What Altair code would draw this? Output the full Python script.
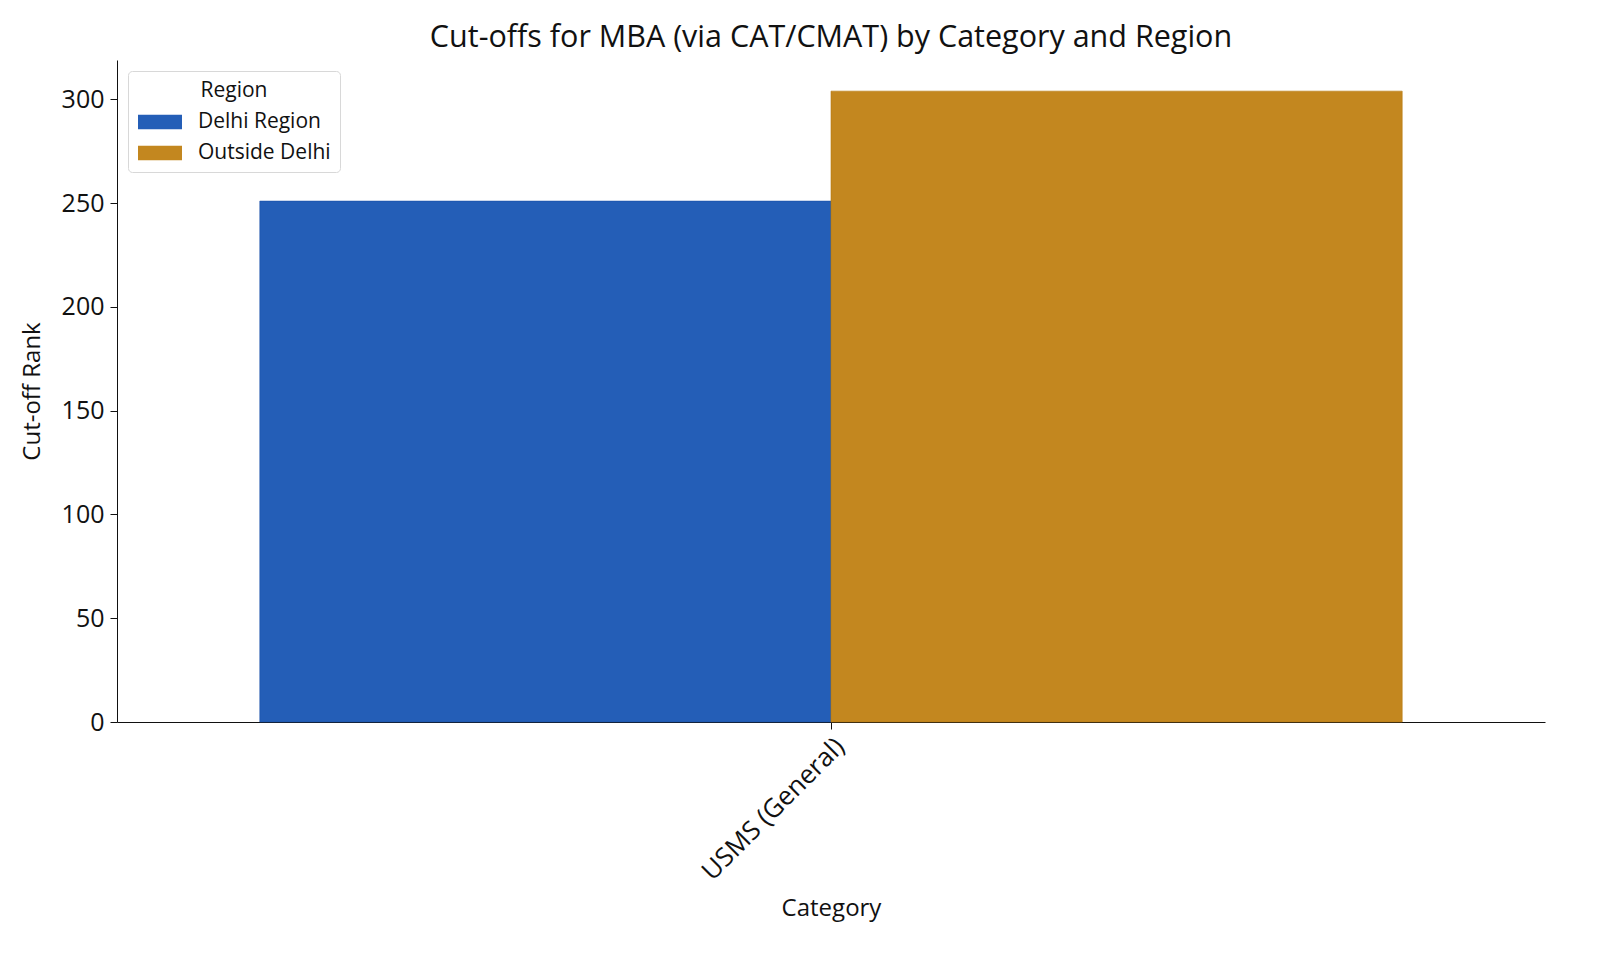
import altair as alt
import pandas as pd

categories = ["USMS (General)"]
regions = ["Delhi Region", "Outside Delhi"]
delhi_values = [251]
outside_values = [304]
colors = ["#245EB7", "#C3871F"]

rows = []
for i, c in enumerate(categories):
    rows.append({"Category": c, "Region": regions[0], "Rank": delhi_values[i]})
    rows.append({"Category": c, "Region": regions[1], "Rank": outside_values[i]})
df = pd.DataFrame(rows)

FONT = "Open Sans"

chart = alt.Chart(df).mark_bar(strokeWidth=1, strokeOpacity=0.6).encode(
    x=alt.X("Category:N", title="Category",
            scale=alt.Scale(paddingInner=0.2, paddingOuter=0.1),
            axis=alt.Axis(labelAngle=-45, labelFontSize=26, titleFontSize=24,
                          titleFontWeight="normal", labelLimit=1000,
                          labelColor="#111", titleColor="#111",
                          domainColor="#111", tickColor="#111", tickSize=7,
                          labelPadding=4, titlePadding=12, titleFont=FONT, labelFont=FONT)),
    xOffset=alt.XOffset("Region:N", sort=regions, scale=alt.Scale(paddingInner=0, paddingOuter=0)),
    y=alt.Y("Rank:Q", title="Cut-off Rank",
            scale=alt.Scale(domain=[0, 319], nice=False),
            axis=alt.Axis(values=[0, 50, 100, 150, 200, 250, 300], grid=False,
                          labelFontSize=25, titleFontSize=24, titleFontWeight="normal",
                          labelColor="#111", titleColor="#111",
                          domainColor="#111", tickColor="#111", tickSize=7,
                          labelPadding=6, titlePadding=17, titleFont=FONT, labelFont=FONT)),
    color=alt.Color("Region:N", sort=regions,
                    scale=alt.Scale(domain=regions, range=colors),
                    legend=alt.Legend(title="Region", orient="none", legendX=11, legendY=11,
                                      titleAnchor="middle", titleFontSize=21, labelFontSize=21,
                                      titleFontWeight="normal", titleColor="#111", labelColor="#111",
                                      titleFont=FONT, labelFont=FONT,
                                      symbolType="M-1.5,-0.5H1.5V0.5H-1.5Z", symbolSize=860,
                                      symbolStrokeWidth=0, symbolOpacity=1, symbolOffset=8,
                                      labelOffset=23, rowPadding=6, titlePadding=6,
                                      padding=9, fillColor="white", strokeColor="#d8d8d8",
                                      cornerRadius=4)),
    stroke=alt.Stroke("Region:N", scale=alt.Scale(domain=regions, range=["#1a50a8", "#b57a10"]), legend=None),
).properties(
    width=1428,
    height=662,
    padding={"left": 109, "top": 52, "right": 30, "bottom": 200},
    autosize=alt.AutoSizeParams(type="none"),
    background="white",
    title=alt.Title("Cut-offs for MBA (via CAT/CMAT) by Category and Region",
                    fontSize=30.5, fontWeight="normal", font=FONT, color="#111",
                    anchor="middle", offset=7),
).configure_view(strokeWidth=0)

chart.save("out.html", embed_options={"renderer": "svg", "actions": False})
